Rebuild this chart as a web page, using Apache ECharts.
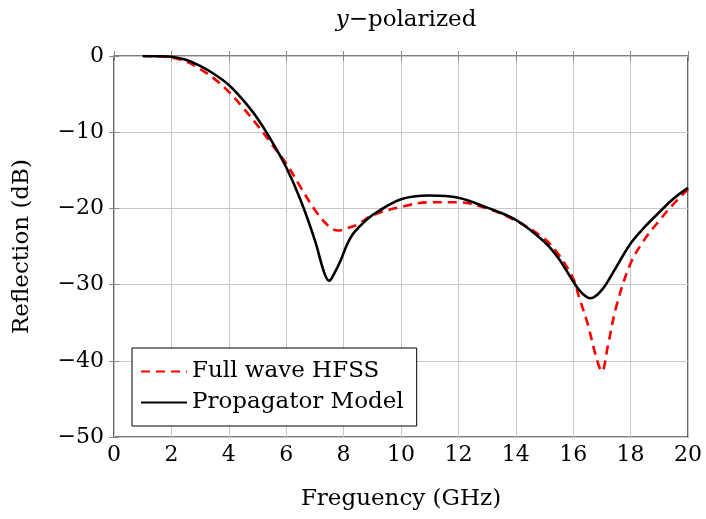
<!DOCTYPE html>
<html><head><meta charset="utf-8">
<script src="https://cdn.jsdelivr.net/npm/echarts@6/dist/echarts.min.js"></script>
<style>html,body{margin:0;padding:0;background:#fff}#c{width:706px;height:519px}</style>
</head><body><div id="c"></div>
<script>
var hfssX = [1, 1.5, 2, 2.5, 3, 3.5, 4, 4.5, 5, 5.5, 6, 6.5, 7, 7.5, 7.8, 8.2, 8.5, 9, 10, 11, 12, 13, 14, 15, 15.5, 16, 16.2, 16.5, 16.8, 17, 17.2, 17.5, 18, 18.5, 19, 19.5, 20];
var hfssY = [0, -0.05, -0.2, -0.7, -1.7, -3.0, -4.7, -6.8, -9.1, -11.6, -14.1, -17.2, -20.2, -22.4, -22.9, -22.5, -22.1, -20.9, -19.8, -19.2, -19.2, -20.0, -21.6, -24.0, -26.1, -29.2, -31.6, -35.1, -39.5, -41.4, -38.2, -32.9, -27.2, -24.0, -21.6, -19.4, -17.5];
var propX = [1, 1.5, 2, 2.5, 3, 3.5, 4, 4.5, 5, 5.5, 6, 6.5, 7, 7.33, 7.5, 7.68, 7.9, 8.1, 8.3, 8.5, 9, 10, 11, 12, 13, 14, 15, 15.5, 16, 16.3, 16.6, 17, 17.5, 18, 18.5, 19, 19.5, 20];
var propY = [0, -0.03, -0.1, -0.5, -1.3, -2.4, -3.8, -5.8, -8.2, -11.2, -14.6, -18.9, -24.2, -28.5, -29.5, -28.5, -26.8, -24.9, -23.5, -22.6, -20.9, -18.8, -18.3, -18.6, -19.9, -21.5, -24.4, -26.6, -29.6, -31.1, -31.8, -30.7, -27.7, -24.6, -22.4, -20.5, -18.7, -17.3];
var xTicks = [0, 2, 4, 6, 8, 10, 12, 14, 16, 18, 20];
var yTicks = [0, -10, -20, -30, -40, -50];
var seriesNames = ['Full wave HFSS', 'Propagator Model'];

function pairs(xs, ys) { return xs.map(function (x, i) { return [x, ys[i]]; }); }
var FONT = 'DejaVu Serif';
function fmt(v) { return v < 0 ? '\u2212' + Math.abs(v) : String(v); }

var chart = echarts.init(document.getElementById('c'));
var tickStyle = { show: true, inside: true, length: 5, lineStyle: { color: '#888', width: 1 } };
chart.setOption({
  animation: false,
  title: {
    text: '{i|y}{n|\u2212polarized}', left: 401, top: 4, textAlign: 'center',
    textStyle: { fontWeight: 'normal', rich: { i: { fontFamily: FONT, fontStyle: 'italic', fontWeight: 'normal', fontSize: 23, color: '#000' }, n: { fontFamily: FONT, fontWeight: 'normal', fontSize: 23, color: '#000' } } }
  },
  grid: { left: 114, right: 18, top: 56, bottom: 82, show: true, borderColor: '#000', borderWidth: 1.2 },
  legend: {
    orient: 'vertical', left: 132, top: 348, data: seriesNames,
    backgroundColor: '#fff', borderColor: '#000', borderWidth: 1, borderRadius: 0,
    padding: [12, 13, 12, 8], itemGap: 8, itemWidth: 46, itemHeight: 14,
    itemStyle: { opacity: 0 },
    textStyle: { fontFamily: FONT, fontSize: 23, color: '#000' }
  },
  xAxis: [{
    type: 'value', min: 0, max: 20, interval: 2,
    name: 'Freguency (GHz)', nameLocation: 'middle', nameGap: 51,
    nameTextStyle: { fontFamily: FONT, fontSize: 23, color: '#000' },
    axisLine: { show: false }, axisTick: tickStyle,
    axisLabel: { fontFamily: FONT, fontSize: 22, color: '#000', margin: 7, formatter: fmt },
    splitLine: { show: true, lineStyle: { color: '#c8c8c8', width: 1 } }
  }, {
    type: 'value', min: 0, max: 20, interval: 2, position: 'top',
    axisLine: { show: false }, axisTick: tickStyle, axisLabel: { show: false }, splitLine: { show: false }
  }],
  yAxis: [{
    type: 'value', min: -50, max: 0, interval: 10,
    name: 'Reflection (dB)', nameLocation: 'middle', nameGap: 80,
    nameTextStyle: { fontFamily: FONT, fontSize: 23, color: '#000' },
    axisLine: { show: false }, axisTick: tickStyle,
    axisLabel: { fontFamily: FONT, fontSize: 22, color: '#000', margin: 10, formatter: fmt },
    splitLine: { show: true, lineStyle: { color: '#c8c8c8', width: 1 } }
  }, {
    type: 'value', min: -50, max: 0, interval: 10, position: 'right',
    axisLine: { show: false }, axisTick: tickStyle, axisLabel: { show: false }, splitLine: { show: false }
  }],
  series: [{
    name: seriesNames[0], type: 'line', smooth: 0.35, symbol: 'none',
    data: pairs(hfssX, hfssY), z: 3,
    lineStyle: { color: '#ff0000', width: 2.6, type: [9, 6] }, itemStyle: { color: '#ff0000' }
  }, {
    name: seriesNames[1], type: 'line', smooth: 0.35, symbol: 'none',
    data: pairs(propX, propY), z: 4,
    lineStyle: { color: '#000', width: 2.6 }, itemStyle: { color: '#000' }
  }]
});
</script></body></html>
